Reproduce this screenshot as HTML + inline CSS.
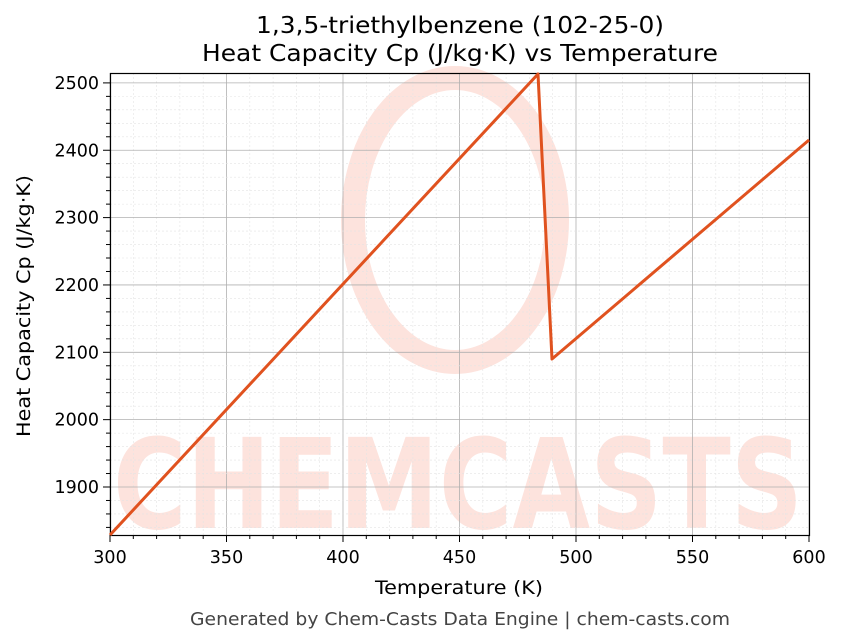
<!DOCTYPE html><html><head><style>body{margin:0;background:#fff}svg{display:block}text{font-family:"DejaVu Sans","Liberation Sans",sans-serif}</style></head><body>
<svg width="843" height="644" viewBox="0 0 843 644">
<g id="wm" fill="#fde3dd" font-weight="bold">
<ellipse cx="455" cy="220" rx="102" ry="142" fill="none" stroke="#fde3dd" stroke-width="24"/>
<text x="458" y="528" font-size="125" text-anchor="middle" textLength="690" lengthAdjust="spacingAndGlyphs">CHEMCASTS</text>
</g>
<g id="grid"></g>
<rect x="110.5" y="73.5" width="699" height="462" fill="none" stroke="#000" stroke-width="1.2"/>
<polyline fill="none" stroke="#e0521f" stroke-width="3" stroke-linejoin="round" points="110,535 538,74 552,359 809,140"/>
<text x="460" y="33" font-size="23" text-anchor="middle" textLength="408" lengthAdjust="spacingAndGlyphs">1,3,5-triethylbenzene (102-25-0)</text>
<text x="460" y="61" font-size="23" text-anchor="middle" textLength="516" lengthAdjust="spacingAndGlyphs">Heat Capacity Cp (J/kg·K) vs Temperature</text>
<text x="459" y="594" font-size="19" text-anchor="middle" textLength="168" lengthAdjust="spacingAndGlyphs">Temperature (K)</text>
<text transform="translate(30,306) rotate(-90)" font-size="19" text-anchor="middle" textLength="262" lengthAdjust="spacingAndGlyphs">Heat Capacity Cp (J/kg·K)</text>
<text x="460" y="625" font-size="17.5" fill="#444" text-anchor="middle" textLength="540" lengthAdjust="spacingAndGlyphs">Generated by Chem-Casts Data Engine | chem-casts.com</text>
</svg>
<script>
var g=document.getElementById('grid'),s='';
function X(t){return 110+(t-300)*699/300}
function Y(v){return 487-(v-1900)*0.6735}
for(var t=300;t<=600;t+=10){var x=X(t);var maj=t%50==0;
s+='<line x1="'+x+'" x2="'+x+'" y1="73" y2="535" stroke="'+(maj?'#b0b0b0':'#e4e4e4')+'" stroke-width="'+(maj?0.8:0.6)+'" '+(maj?'':'stroke-dasharray="2,2"')+'/>';
s+='<line x1="'+x+'" x2="'+x+'" y1="535" y2="'+(maj?542:539)+'" stroke="#000"/>';
if(maj)s+='<text x="'+x+'" y="563" font-size="17.5" text-anchor="middle">'+t+'</text>';}
for(var v=1840;v<=2500;v+=20){var y=Y(v);var maj=v%100==0;
s+='<line x1="110" x2="809" y1="'+y+'" y2="'+y+'" stroke="'+(maj?'#b0b0b0':'#e4e4e4')+'" stroke-width="'+(maj?0.8:0.6)+'" '+(maj?'':'stroke-dasharray="2,2"')+'/>';
s+='<line x1="110" x2="'+(maj?103:106)+'" y1="'+y+'" y2="'+y+'" stroke="#000"/>';
if(maj)s+='<text x="99" y="'+(y+6)+'" font-size="17.5" text-anchor="end">'+v+'</text>';}
g.innerHTML=s;
</script>
</body></html>
